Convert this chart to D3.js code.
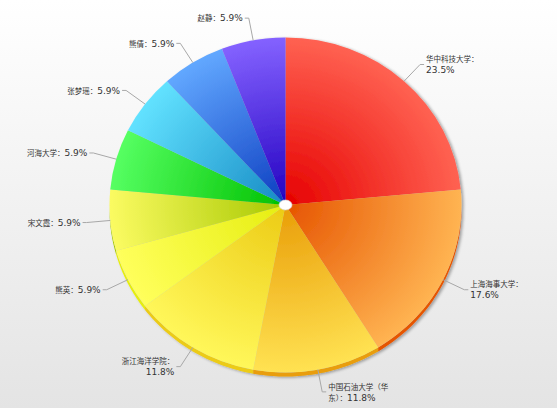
<!DOCTYPE html>
<html>
<head>
<meta charset="utf-8">
<script src="https://cdn.jsdelivr.net/npm/d3@7/dist/d3.min.js"></script>
<style>
  html, body { margin: 0; padding: 0; background: #fff; }
  svg { display: block; }
</style>
</head>
<body>
<svg id="chart" width="557" height="408"></svg>
<script>
// Share of entries per institution / person
const categories = ["华中科技大学", "上海海事大学", "中国石油大学（华东）", "浙江海洋学院", "熊英", "宋文霞", "河海大学", "张梦瑶", "熊倩", "赵静"];
const values = [4, 3, 2, 2, 1, 1, 1, 1, 1, 1];

// Slice palette: saturated tone at the centre, lighter tone at the rim
const innerColors = ["#e60000", "#e65400", "#e99d08", "#eccb14", "#e6ee10", "#a6c800", "#00c000", "#168ac4", "#0c3cc0", "#2200c0"];
const outerColors = ["#ff6252", "#ffb452", "#ffe252", "#fff75a", "#ffff5c", "#fbfb62", "#56ff62", "#62e2ff", "#62a8ff", "#8462ff"];

const W = 557, H = 408;
const cx = 285.5, cy = 205, rx = 176, ry = 167.5, depth = 4;
const svg = d3.select("#chart");
const defs = svg.append("defs");

// Backdrop
const bg = defs.append("linearGradient").attr("id", "bg").attr("x1", 0).attr("y1", 0).attr("x2", 0).attr("y2", 1);
bg.append("stop").attr("offset", 0).attr("stop-color", "#ffffff");
bg.append("stop").attr("offset", 1).attr("stop-color", "#e4e4e4");
svg.append("rect").attr("width", W).attr("height", H).attr("fill", "url(#bg)");

const shadow = defs.append("filter").attr("id", "shadow").attr("x", "-10%").attr("y", "-10%").attr("width", "120%").attr("height", "120%");
shadow.append("feGaussianBlur").attr("in", "SourceAlpha").attr("stdDeviation", 1.5).attr("result", "b");
shadow.append("feOffset").attr("in", "b").attr("dx", 1.5).attr("dy", 1).attr("result", "o");
shadow.append("feComponentTransfer").attr("in", "o").attr("result", "s")
  .append("feFuncA").attr("type", "linear").attr("slope", 0.35);
const merge = shadow.append("feMerge");
merge.append("feMergeNode").attr("in", "s");
merge.append("feMergeNode").attr("in", "SourceGraphic");

const pie = d3.pie().sort(null).value(d => d)(values);
const total = d3.sum(values);
const fmt = d3.format(".1%");

values.forEach((v, i) => {
  const g = defs.append("radialGradient").attr("id", "g" + i)
    .attr("gradientUnits", "userSpaceOnUse").attr("cx", 0).attr("cy", 0).attr("r", ry);
  g.append("stop").attr("offset", 0).attr("stop-color", innerColors[i]);
  g.append("stop").attr("offset", 1).attr("stop-color", outerColors[i]);
});

const pieG = svg.append("g").attr("transform", `translate(${cx},${cy})`).attr("filter", "url(#shadow)");

// Visible side wall along the front half of the tilted disc
const ex = a => rx * Math.sin(a), ey = a => -ry * Math.cos(a);
pie.forEach((p, i) => {
  const a0 = Math.max(p.startAngle, Math.PI / 2), a1 = Math.min(p.endAngle, 3 * Math.PI / 2);
  if (a1 <= a0) return;
  const n = 40, top = [], bot = [];
  for (let k = 0; k <= n; k++) {
    const a = a0 + (a1 - a0) * k / n;
    top.push([ex(a), ey(a)]);
    bot.push([ex(a), ey(a) + depth]);
  }
  const pts = top.concat(bot.reverse());
  pieG.append("path").attr("d", d3.line()(pts) + "Z").attr("fill", innerColors[i]);
});

// Top face
const arc = d3.arc().innerRadius(0).outerRadius(ry);
const face = pieG.append("g").attr("transform", `scale(${rx / ry},1)`);
face.selectAll("path.slice").data(pie).join("path")
  .attr("class", "slice")
  .attr("d", arc)
  .attr("fill", (d, i) => `url(#g${i})`);

// Centre hole
pieG.append("ellipse").attr("rx", 6.5).attr("ry", 5).attr("fill", "#fff").attr("stroke", "#d8d8d8").attr("stroke-width", 0.6);

// Labels with elbow connectors
const cjkSize = 7.5, numSize = 9, lineH = 11, maxW = 62;
const probe = svg.append("text").attr("font-family", "'DejaVu Sans', Verdana, sans-serif").attr("font-size", numSize);
const measureNum = s => { probe.text(s); return probe.node().getComputedTextLength(); };

function wrap(name, pct) {
  const tokens = Array.from(name + "：").map(c => ({ t: c, cjk: true, w: cjkSize }));
  tokens.push({ t: pct, cjk: false, w: measureNum(pct) });
  const lines = [[]];
  let w = 0;
  tokens.forEach(tok => {
    if (w + tok.w > maxW && lines[lines.length - 1].length) { lines.push([]); w = 0; }
    lines[lines.length - 1].push(tok);
    w += tok.w;
  });
  return lines;
}

const labelG = svg.append("g");
pie.forEach((p, i) => {
  const mid = (p.startAngle + p.endAngle) / 2;
  const s = Math.sin(mid), c = Math.cos(mid);
  const x0 = cx + rx * s, y0 = cy - ry * c;
  const k = 1.135;
  const x1 = cx + rx * s * k, y1 = cy - ry * c * k;
  const right = s >= 0;
  const x2 = x1 + (right ? 4 : -4);
  labelG.append("path").attr("d", d3.line()([[x0, y0], [x1, y1], [x2, y1]]))
    .attr("fill", "none").attr("stroke", "#a8a8a8").attr("stroke-width", 1);

  const lines = wrap(categories[i], fmt(values[i] / total));
  const tx = x2 + (right ? 2 : -2);
  const firstC = y1 - (lines.length - 1) * lineH / 2;
  lines.forEach((line, li) => {
    const t = labelG.append("text")
      .attr("x", tx).attr("y", firstC + li * lineH + 3.2)
      .attr("text-anchor", right ? "start" : "end")
      .attr("fill", "#333");
    const cjk = line.filter(d => d.cjk).map(d => d.t).join("");
    const num = line.filter(d => !d.cjk).map(d => d.t).join("");
    if (cjk) t.append("tspan").attr("font-family", "'Noto Sans CJK SC', sans-serif").attr("font-size", cjkSize).text(cjk);
    if (num) t.append("tspan").attr("font-family", "'DejaVu Sans', Verdana, sans-serif").attr("font-size", numSize).text(num);
  });
});
probe.remove();
</script>
</body>
</html>
